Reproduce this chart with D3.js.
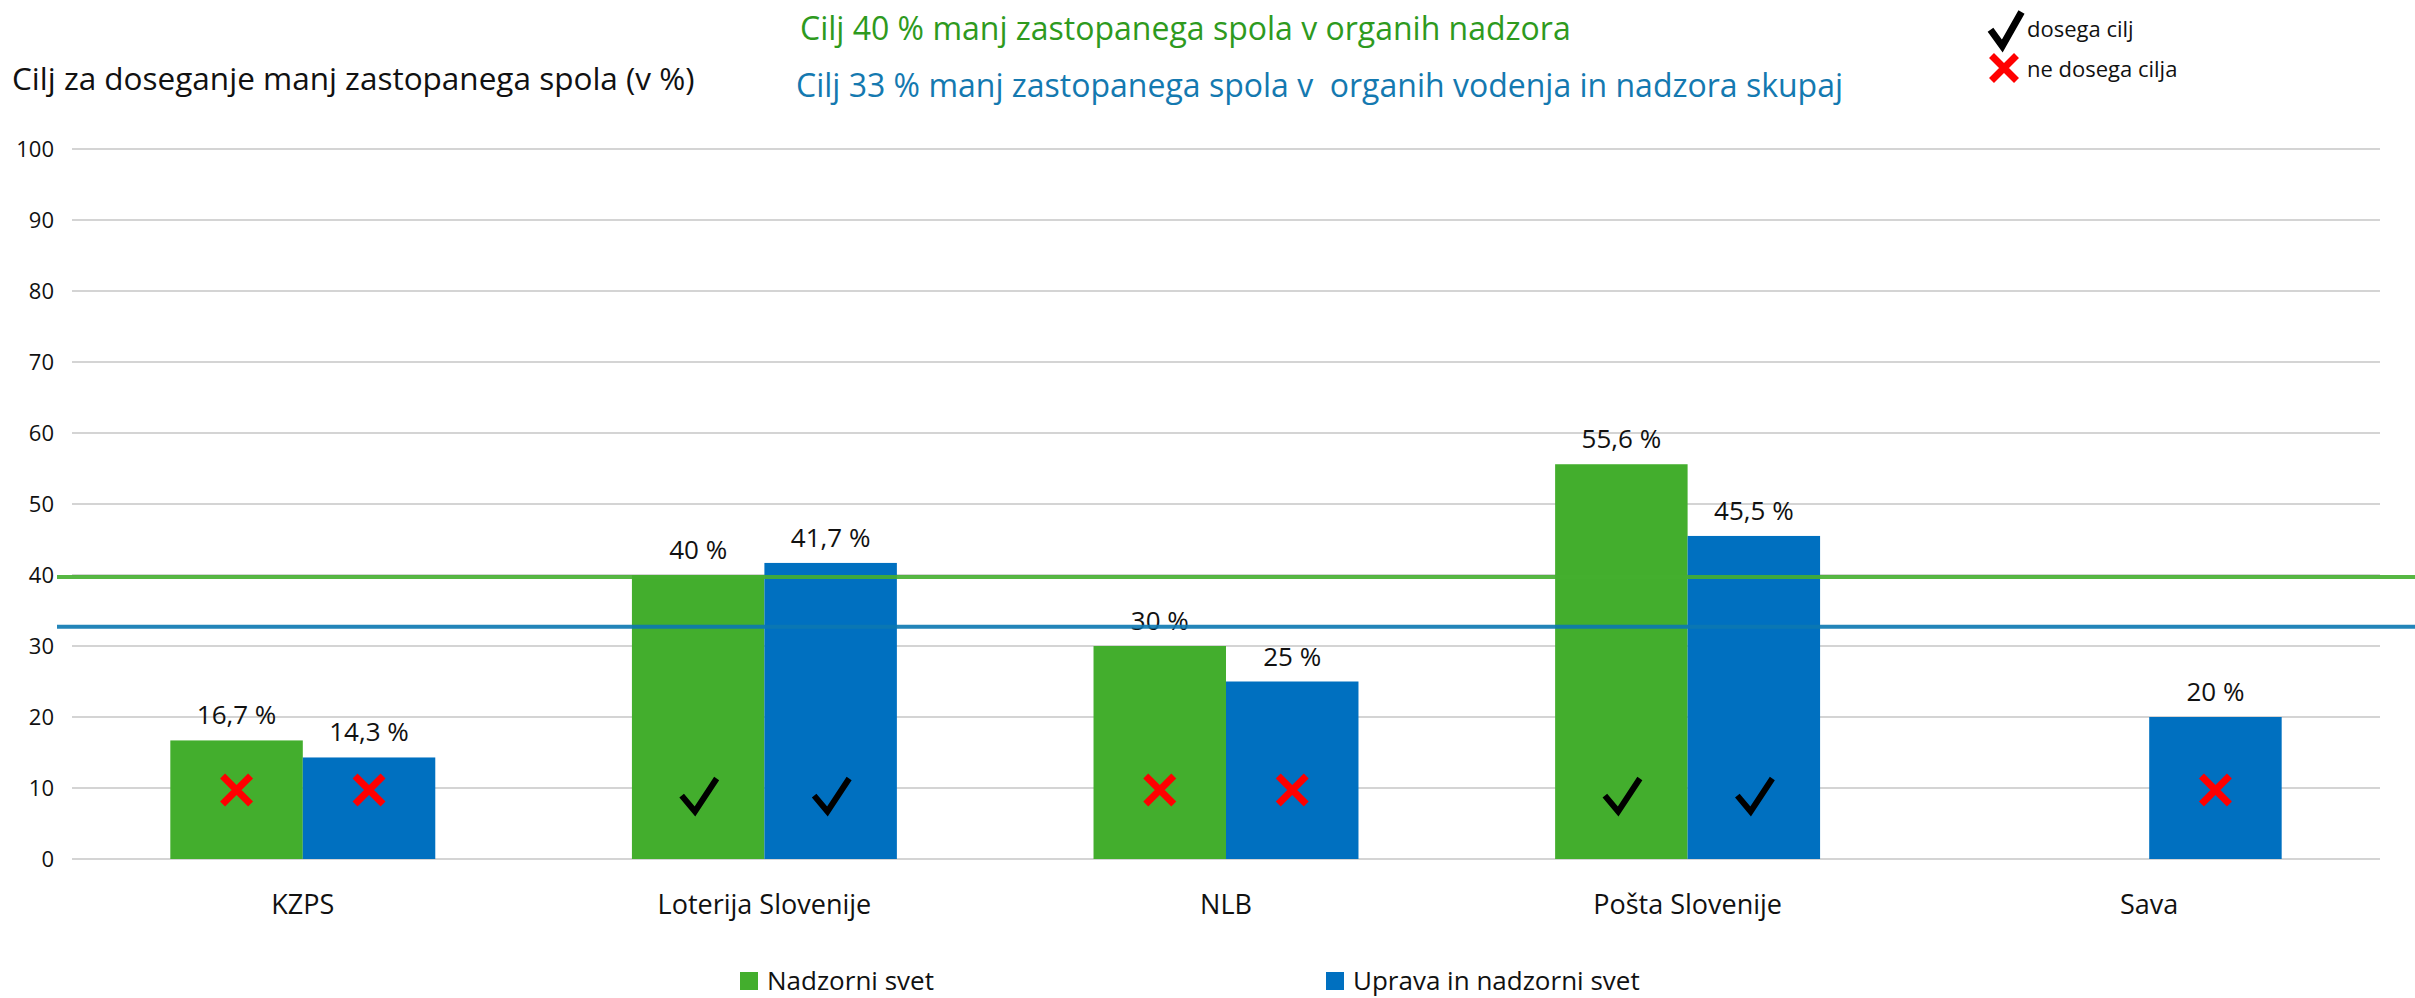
<!DOCTYPE html>
<html>
<head>
<meta charset="utf-8">
<script src="https://cdnjs.cloudflare.com/ajax/libs/d3/7.8.5/d3.min.js"></script>
<style>
    body { margin: 0; background: #fff; }
    text { font-family: "Open Sans", sans-serif; }
</style>
</head>
<body>
<script>
// data
var companies = ["KZPS", "Loterija Slovenije", "NLB", "Pošta Slovenije", "Sava"];
var seriesNames = ["Nadzorni svet", "Uprava in nadzorni svet"];
var nadzorniSvet = [16.7, 40, 30, 55.6, null];
var upravaNadzorni = [14.3, 41.7, 25, 45.5, 20];
var targets = [40, 33];
var yTicks = [0, 10, 20, 30, 40, 50, 60, 70, 80, 90, 100];

var vizWidth = 2415,
    vizHeight = 998;

var colors = ["#43AE2D", "#0070C0"],
    lineColors = ["#45B02F", "#0C78B2"];

var plotLeft = 72,
    plotRight = 2380;

var x0 = d3.scaleBand()
    .domain(companies)
    .range([plotLeft, plotRight])
    .paddingInner(0.426)
    .paddingOuter(0.213);

var x1 = d3.scaleBand()
    .domain(seriesNames)
    .range([0, x0.bandwidth()]);

var y = d3.scaleLinear()
    .domain([0, 100])
    .range([859, 149]);

var rows = [];
companies.forEach(function (c, i) {
    [nadzorniSvet, upravaNadzorni].forEach(function (s, j) {
        if (s[i] == null) return;
        rows.push({ company: c, series: seriesNames[j], idx: j, value: s[i], ok: s[i] >= targets[j] });
    });
});

var viz = d3.select("body").append("svg")
    .attr("width", vizWidth)
    .attr("height", vizHeight);

viz.append("rect")
    .attr("width", vizWidth)
    .attr("height", vizHeight)
    .attr("fill", "#fff");

// gridlines + y labels
var grid = viz.append("g").attr("class", "grid");
grid.selectAll("line")
    .data(yTicks)
    .enter().append("line")
    .attr("x1", plotLeft)
    .attr("x2", plotRight)
    .attr("y1", d => y(d))
    .attr("y2", d => y(d))
    .attr("stroke", "#d4d4d4")
    .attr("stroke-width", 2);

grid.selectAll("text")
    .data(yTicks)
    .enter().append("text")
    .attr("x", 54)
    .attr("y", d => y(d) + 8)
    .attr("text-anchor", "end")
    .attr("font-size", "22px")
    .attr("fill", "#111")
    .text(d => d);

// bars
var bars = viz.append("g").attr("class", "bars");
bars.selectAll("rect")
    .data(rows)
    .enter().append("rect")
    .attr("x", d => x0(d.company) + x1(d.series))
    .attr("y", d => y(d.value))
    .attr("width", x1.bandwidth())
    .attr("height", d => y(0) - y(d.value))
    .attr("fill", d => colors[d.idx]);

bars.selectAll("text")
    .data(rows)
    .enter().append("text")
    .attr("x", d => x0(d.company) + x1(d.series) + x1.bandwidth() / 2)
    .attr("y", d => y(d.value) - 16)
    .attr("text-anchor", "middle")
    .attr("font-size", "26px")
    .attr("fill", "#111")
    .text(d => String(d.value).replace(".", ",") + " %");

// target lines
viz.append("g").selectAll("line")
    .data(targets)
    .enter().append("line")
    .attr("x1", 57)
    .attr("x2", vizWidth)
    .attr("y1", d => y(d) + 2)
    .attr("y2", d => y(d) + 2)
    .attr("stroke", (d, i) => lineColors[i])
    .attr("stroke-width", 4)
    .attr("opacity", 0.9);

// markers
function drawCheck(g, cx, cy, w, h, sw) {
    g.append("path")
        .attr("d", "M" + (cx - w / 2) + "," + (cy + h * 0.02) +
            "L" + (cx - w * 0.12) + "," + (cy + h / 2) +
            "L" + (cx + w / 2) + "," + (cy - h / 2))
        .attr("fill", "none")
        .attr("stroke", "#000")
        .attr("stroke-width", sw)
        .attr("stroke-linejoin", "miter");
}
function drawCross(g, cx, cy, s, sw) {
    g.append("path")
        .attr("d", "M" + (cx - s / 2) + "," + (cy - s / 2) + "L" + (cx + s / 2) + "," + (cy + s / 2) +
            "M" + (cx + s / 2) + "," + (cy - s / 2) + "L" + (cx - s / 2) + "," + (cy + s / 2))
        .attr("stroke", "#ff0000")
        .attr("stroke-width", sw);
}

var marks = viz.append("g").attr("class", "marks");
rows.forEach(function (d) {
    var cx = x0(d.company) + x1(d.series) + x1.bandwidth() / 2;
    if (d.ok) drawCheck(marks, cx + 1, y(10) + 7, 35, 33, 6);
    else drawCross(marks, cx, y(10) + 2, 28, 7);
});

// titles
viz.append("text")
    .attr("x", 12)
    .attr("y", 90)
    .attr("font-size", "31.5px")
    .attr("fill", "#111")
    .text("Cilj za doseganje manj zastopanega spola (v %)");

viz.append("text")
    .attr("x", 800)
    .attr("y", 40)
    .attr("font-size", "32px")
    .attr("fill", "#2E9A1E")
    .text("Cilj 40 % manj zastopanega spola v organih nadzora");

viz.append("text")
    .attr("x", 796)
    .attr("y", 97)
    .attr("font-size", "32px")
    .attr("fill", "#1479B0")
    .attr("xml:space", "preserve")
    .text("Cilj 33 % manj zastopanega spola v  organih vodenja in nadzora skupaj");

// top-right legend
var key = viz.append("g");
drawCheck(key, 2006, 29, 31, 34, 7);
drawCross(key, 2004, 68, 25, 7);
key.append("text").attr("x", 2027).attr("y", 37).attr("font-size", "22px").attr("fill", "#111").text("dosega cilj");
key.append("text").attr("x", 2027).attr("y", 77).attr("font-size", "22px").attr("fill", "#111").text("ne dosega cilja");

// category labels
viz.append("g").selectAll("text")
    .data(companies)
    .enter().append("text")
    .attr("x", d => x0(d) + x0.bandwidth() / 2)
    .attr("y", 914)
    .attr("text-anchor", "middle")
    .attr("font-size", "27px")
    .attr("fill", "#111")
    .text(d => d);

// bottom legend
var legendX = [740, 1326];
var legend = viz.append("g").selectAll("g")
    .data(seriesNames)
    .enter().append("g")
    .attr("transform", (d, i) => "translate(" + legendX[i] + ",972)");
legend.append("rect")
    .attr("width", 18)
    .attr("height", 18)
    .attr("fill", (d, i) => colors[i]);
legend.append("text")
    .attr("x", 27)
    .attr("y", 18)
    .attr("font-size", "26px")
    .attr("fill", "#111")
    .text(d => d);
</script>
</body>
</html>
